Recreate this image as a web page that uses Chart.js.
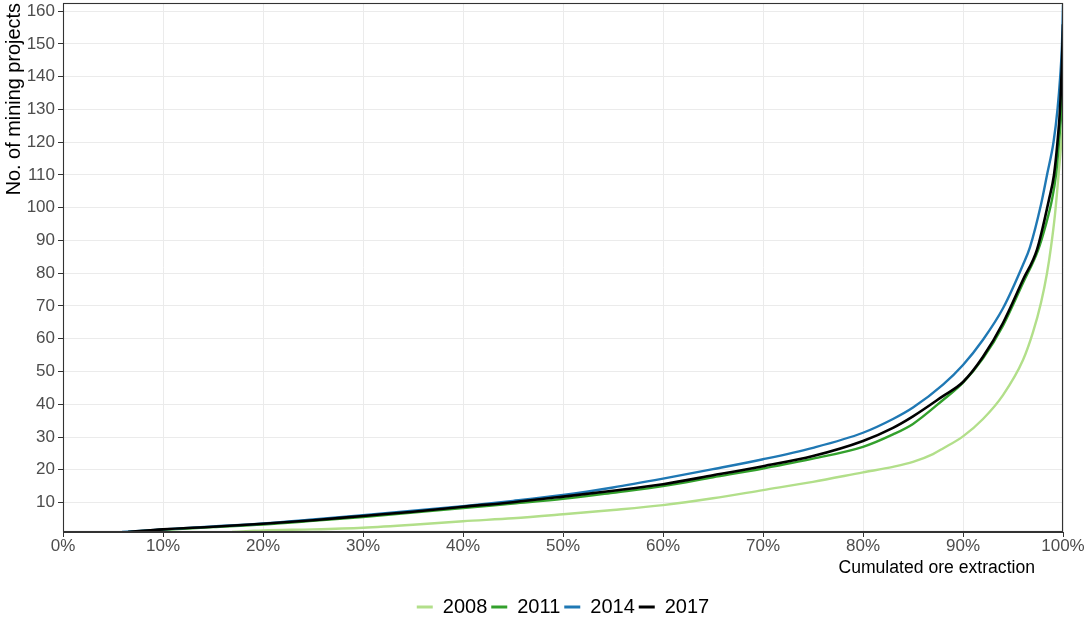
<!DOCTYPE html>
<html>
<head>
<meta charset="utf-8">
<script src="https://cdn.jsdelivr.net/npm/chart.js@4/dist/chart.umd.min.js"></script>
<style>
  html, body { margin: 0; padding: 0; background: #ffffff; }
  #wrap { width: 1086px; height: 618px; }
</style>
</head>
<body>
<div id="wrap"><canvas id="chart" width="1086" height="618"></canvas></div>
<script>
// Survey years
const years = ['2008', '2011', '2014', '2017'];
const colors = ['#b2df8a', '#33a02c', '#1f78b4', '#000000'];

// Cumulated ore extraction (%) and the number of projects needed to reach it
const share2008 = [16.9, 18.7, 20, 25, 30, 35, 40, 45, 50, 55, 60, 65, 70, 75, 80, 83, 85, 87, 88, 90, 92, 94, 96, 97, 97.8, 98.4, 98.8, 99.2, 99.5, 99.75, 100];
const projects2008 = [1, 1.3, 1.5, 1.8, 2.3, 3.2, 4.3, 5.2, 6.4, 7.7, 9.2, 11.3, 13.8, 16.3, 19.2, 20.9, 22.4, 24.8, 26.5, 30.2, 35.5, 42.8, 53.5, 62, 71, 80, 88, 98, 108, 117, 125];

const share2011 = [6.5, 10, 15, 20, 25, 30, 35, 40, 45, 50, 55, 60, 65, 70, 75, 80, 83, 85, 88, 90, 92, 94, 96, 97.5, 98.3, 98.9, 99.3, 99.6, 99.85, 100];
const projects2011 = [1, 1.7, 2.5, 3.3, 4.4, 5.6, 6.9, 8.3, 9.7, 11.1, 13.0, 15.0, 17.7, 20.4, 23.4, 27.0, 30.8, 34.0, 41.3, 46.6, 54.0, 64.0, 77.0, 87.0, 95, 102.5, 110, 120, 130, 140];

const share2014 = [5.9, 10, 15, 20, 25, 30, 35, 40, 45, 50, 55, 60, 65, 70, 75, 80, 83, 85, 88, 90, 92, 94, 96, 96.7, 97.8, 98.4, 99.05, 99.45, 99.72, 99.9, 100];
const projects2014 = [1, 1.8, 2.7, 3.6, 4.8, 6.1, 7.5, 8.9, 10.5, 12.3, 14.6, 17.3, 20.2, 23.2, 26.7, 31.3, 35.5, 39.0, 46.0, 52.0, 59.7, 69.3, 82.6, 88, 101, 110, 120, 130, 140, 150, 162];

const share2017 = [6.5, 10, 15, 20, 25, 30, 35, 40, 45, 50, 55, 60, 65, 70, 75, 80, 83, 85, 88, 90, 92, 94, 96, 97.4, 98.6, 99.1, 99.45, 99.7, 99.9, 100];
const projects2017 = [1, 1.8, 2.6, 3.5, 4.6, 5.9, 7.2, 8.7, 10.1, 11.8, 13.6, 15.6, 18.3, 21.1, 24.2, 28.8, 32.8, 36.3, 42.5, 46.8, 54.5, 64.8, 78, 87.2, 102.5, 110, 120, 130, 145, 156];

// Axis ticks
const xTickValues = [0, 10, 20, 30, 40, 50, 60, 70, 80, 90, 100];
const yTickValues = [10, 20, 30, 40, 50, 60, 70, 80, 90, 100, 110, 120, 130, 140, 150, 160];

const xTitle = 'Cumulated ore extraction';
const yTitle = 'No. of mining projects';

const shares = [share2008, share2011, share2014, share2017];
const projects = [projects2008, projects2011, projects2014, projects2017];

const FONT = "'Liberation Sans', Arial, sans-serif";

const datasets = years.map((yr, i) => ({
  label: yr,
  data: shares[i].map((s, k) => ({ x: s, y: projects[i][k] })),
  borderColor: colors[i],
  backgroundColor: colors[i],
  borderWidth: i === 3 ? 2.6 : 2.4,
  pointRadius: 0,
  cubicInterpolationMode: 'monotone',
  fill: false,
  // later years are painted over earlier ones
  order: 3 - i
}));

// Full panel frame plus the right-aligned x axis title
const framePlugin = {
  id: 'frame',
  afterDraw(chart) {
    const { ctx, chartArea: a } = chart;
    ctx.save();
    ctx.strokeStyle = '#333333';
    ctx.lineWidth = 1.1;
    ctx.strokeRect(Math.round(a.left) + 0.5, Math.round(a.top) + 0.5,
                   Math.round(a.right - a.left) - 1, Math.round(a.bottom - a.top) - 1);
    ctx.fillStyle = '#000000';
    ctx.font = '17.6px ' + FONT;
    ctx.textAlign = 'right';
    ctx.textBaseline = 'middle';
    ctx.fillText(xTitle, a.right - 28, a.bottom + 36);
    ctx.restore();
  }
};

new Chart(document.getElementById('chart'), {
  type: 'line',
  data: { datasets },
  options: {
    responsive: false,
    animation: false,
    events: [],
    layout: { autoPadding: false, padding: { left: 0, right: 23, top: 3, bottom: -9 } },
    plugins: {
      tooltip: { enabled: false },
      legend: {
        position: 'bottom',
        fullSize: false,
        labels: {
          boxWidth: 16,
          boxHeight: 3,
          padding: 4,
          color: '#000000',
          font: { size: 20, family: FONT },
          sort: (a, b) => a.datasetIndex - b.datasetIndex,
          generateLabels(chart) {
            const items = Chart.defaults.plugins.legend.labels.generateLabels(chart);
            items.forEach(it => { it.lineWidth = 0; it.fillStyle = it.strokeStyle; });
            return items;
          }
        }
      }
    },
    scales: {
      x: {
        type: 'linear',
        min: 0,
        max: 100,
        afterBuildTicks(scale) { scale.ticks = xTickValues.map(v => ({ value: v })); },
        afterFit(scale) { scale.height = 61; scale.paddingLeft = 0; scale.paddingRight = 0; },
        ticks: {
          color: '#4d4d4d',
          font: { size: 17, family: FONT },
          padding: -1,
          maxRotation: 0,
          autoSkip: false,
          callback: v => v + '%'
        },
        grid: { color: '#ebebeb', lineWidth: 1, tickColor: '#333333', tickLength: 5 },
        border: { display: true, color: '#333333', width: 1 }
      },
      y: {
        type: 'linear',
        min: 1,
        max: 162.5,
        afterBuildTicks(scale) { scale.ticks = yTickValues.map(v => ({ value: v })); },
        afterFit(scale) { scale.width = 63; scale.paddingTop = 0; scale.paddingBottom = 0; },
        ticks: {
          color: '#4d4d4d',
          font: { size: 17, family: FONT },
          padding: 3,
          autoSkip: false
        },
        grid: { color: '#ebebeb', lineWidth: 1, tickColor: '#333333', tickLength: 5 },
        border: { display: true, color: '#333333', width: 1 },
        title: {
          display: true,
          text: yTitle,
          align: 'end',
          color: '#000000',
          font: { size: 19.9, family: FONT },
          padding: { top: 3, bottom: 0 }
        }
      }
    }
  },
  plugins: [framePlugin]
});
</script>
</body>
</html>
